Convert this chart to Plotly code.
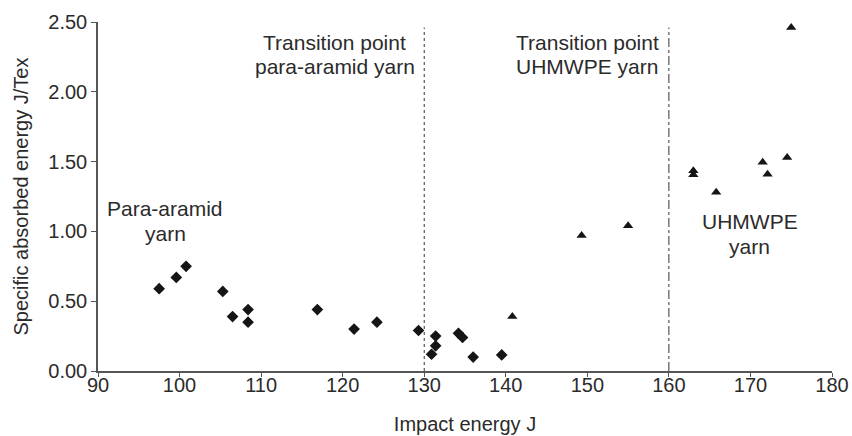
import plotly.graph_objects as go

aramid_x = [97.5, 99.6, 100.8, 105.3, 106.5, 108.4, 108.4, 116.9, 121.4, 124.2,
            129.3, 130.9, 131.4, 131.4, 134.2, 134.7, 136.0, 139.5]
aramid_y = [0.59, 0.67, 0.75, 0.57, 0.39, 0.44, 0.35, 0.44, 0.30, 0.35,
            0.29, 0.12, 0.25, 0.18, 0.27, 0.24, 0.10, 0.115]

uhmwpe_x = [140.8, 149.3, 155.0, 163.0, 163.0, 165.8, 171.5, 172.1, 174.5, 175.0]
uhmwpe_y = [0.39, 0.97, 1.04, 1.435, 1.405, 1.28, 1.495, 1.41, 1.53, 2.46]

transition_aramid = 130
transition_uhmwpe = 160

x_ticks = [90, 100, 110, 120, 130, 140, 150, 160, 170, 180]
y_ticks = [0, 0.5, 1.0, 1.5, 2.0, 2.5]

# annotation text lines: (x, y, text)
labels = [
    (119.05, 2.351, "Transition point"),
    (119.05, 2.184, "para-aramid yarn"),
    (150.0, 2.351, "Transition point"),
    (150.0, 2.184, "UHMWPE yarn"),
    (98.23, 1.167, "Para-aramid"),
    (98.23, 0.988, "yarn"),
    (169.9, 1.074, "UHMWPE"),
    (169.9, 0.895, "yarn"),
]

FONT = "Liberation Sans, Arial, sans-serif"
TXT = "#2b2b2b"
AX = "#555555"

fig = go.Figure()
fig.add_trace(go.Scatter(x=aramid_x, y=aramid_y, mode="markers",
                         marker=dict(symbol="diamond", size=9, color="#151515"),
                         showlegend=False))
fig.add_trace(go.Scatter(x=uhmwpe_x, y=uhmwpe_y, mode="markers",
                         marker=dict(symbol="triangle-up", size=9, color="#151515"),
                         showlegend=False))

fig.add_shape(type="line", x0=transition_aramid, x1=transition_aramid, y0=0, y1=2.46,
              line=dict(color="#333333", width=1, dash="dot"))
fig.add_shape(type="line", x0=transition_uhmwpe, x1=transition_uhmwpe, y0=0, y1=2.46,
              line=dict(color="#333333", width=1, dash="dashdot"))

for lx, ly, lt in labels:
    fig.add_annotation(x=lx, y=ly, text=lt, showarrow=False, xanchor="center",
                       yanchor="middle", font=dict(family=FONT, size=21, color=TXT))

fig.update_layout(
    width=852, height=436,
    margin=dict(l=98, r=20, t=22, b=65),
    paper_bgcolor="white", plot_bgcolor="white",
    font=dict(family=FONT, size=20, color=TXT),
)
fig.update_xaxes(range=[90, 180], tickvals=x_ticks, showgrid=False, zeroline=False,
                 showline=True, linecolor=AX, linewidth=1.5, automargin=False,
                 ticks="outside", ticklen=4, tickcolor=AX, ticklabelstandoff=-9,
                 ticklabeloverflow="allow",
                 title=dict(text="Impact energy J", font=dict(size=20), standoff=22))
fig.update_yaxes(range=[0, 2.5], tickvals=y_ticks, tickformat=".2f", showgrid=False,
                 zeroline=False, showline=True, linecolor=AX, linewidth=1.5,
                 automargin=False, ticks="outside", ticklen=5, tickcolor=AX,
                 title=dict(text="Specific absorbed energy J/Tex", font=dict(size=20),
                            standoff=14))

fig.write_html("out.html",
               config={"displayModeBar": False},
               post_script="document.body.style.margin='0';"
                           "document.body.style.overflow='hidden';")
